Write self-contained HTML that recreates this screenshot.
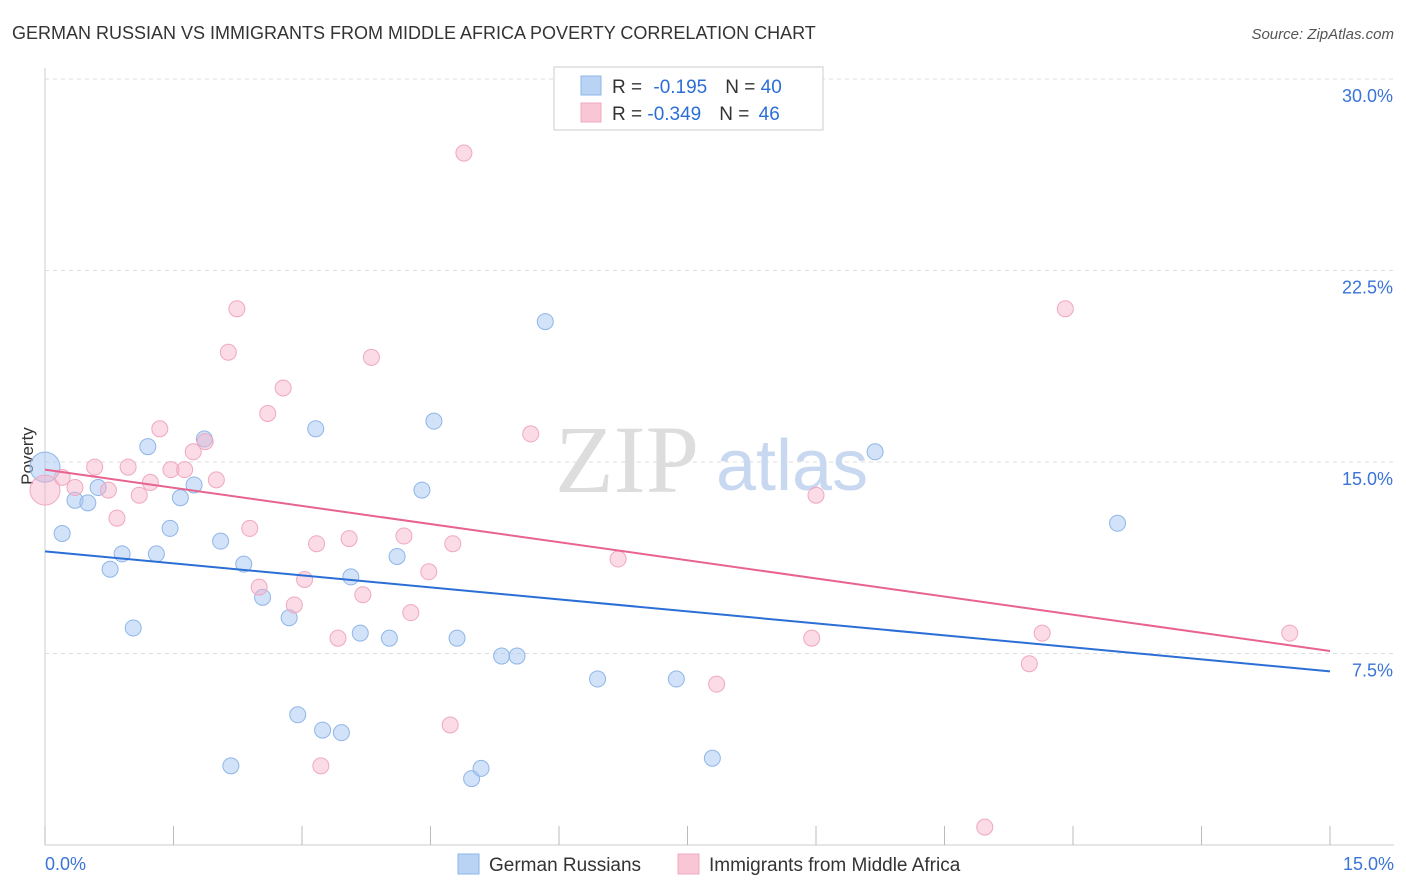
<!DOCTYPE html>
<html><head><meta charset="utf-8"><style>
body{margin:0;background:#fff;font-family:"Liberation Sans",sans-serif;}
svg{display:block}
</style></head><body>
<svg id="c" width="1406" height="892" xmlns="http://www.w3.org/2000/svg">
<text x="12" y="39" font-size="18" fill="#333">GERMAN RUSSIAN VS IMMIGRANTS FROM MIDDLE AFRICA POVERTY CORRELATION CHART</text>
<text x="1394" y="39" font-size="15" fill="#555" font-style="italic" text-anchor="end">Source: ZipAtlas.com</text>
<text x="33" y="456" font-size="17" fill="#333" transform="rotate(-90 33 456)" text-anchor="middle">Poverty</text>
<g id="grid"></g>
<g id="wm"><text x="555" y="492" font-size="96" fill="#ddd" font-family="Liberation Serif,serif">ZIP</text><text x="716" y="490" font-size="72" fill="#c8d8f0">atlas</text></g>
<g id="pts"></g>
<g id="lines"></g>
<g>
<rect x="554" y="67" width="269" height="63" fill="#fff" stroke="#ccc"/>
<rect x="581" y="76" width="20" height="19" fill="#b9d3f5" stroke="#8fb6e8"/>
<rect x="581" y="103" width="20" height="19" fill="#f9c6d6" stroke="#f0a8c0"/>
<text x="612" y="93" font-size="19" fill="#333">R = <tspan fill="#2b6fd6" dx="6">-0.195</tspan><tspan dx="18" fill="#333">N = </tspan><tspan fill="#2b6fd6">40</tspan></text>
<text x="612" y="120" font-size="19" fill="#333">R = <tspan fill="#2b6fd6">-0.349</tspan><tspan dx="18" fill="#333">N = </tspan><tspan fill="#2b6fd6" dx="4">46</tspan></text>
</g>
<g>
<rect x="458" y="854" width="21" height="20" fill="#b9d3f5" stroke="#8fb6e8"/>
<text x="489" y="871" font-size="19" fill="#333">German Russians</text>
<rect x="678" y="854" width="21" height="20" fill="#f9c6d6" stroke="#f0a8c0"/>
<text x="709" y="871" font-size="19" fill="#333">Immigrants from Middle Africa</text>
</g>
</svg>
<script>
const blueX=[0,0.20,0.35,0.50,0.62,0.76,0.90,1.03,1.20,1.30,1.46,1.58,1.74,1.86,2.05,2.17,2.32,2.54,2.85,2.95,3.16,3.24,3.46,3.57,3.68,4.02,4.11,4.40,4.54,4.81,4.98,5.09,5.33,5.51,5.84,6.45,7.37,7.79,9.69,12.52];
const blueY=[14.8,12.2,13.5,13.4,14.0,10.8,11.4,8.5,15.6,11.4,12.4,13.6,14.1,15.9,11.9,3.1,11.0,9.7,8.9,5.1,16.3,4.5,4.4,10.5,8.3,8.1,11.3,13.9,16.6,8.1,2.6,3.0,7.4,7.4,20.5,6.5,6.5,3.4,15.4,12.6];
const pinkX=[0,0.20,0.35,0.58,0.74,0.84,0.97,1.10,1.23,1.34,1.47,1.63,1.73,1.87,2.00,2.14,2.24,2.39,2.50,2.60,2.78,2.91,3.03,3.17,3.22,3.42,3.55,3.71,3.81,4.19,4.27,4.48,4.73,4.76,4.89,5.67,6.69,7.84,8.95,9.00,10.97,11.49,11.64,11.91,14.53];
const pinkY=[13.9,14.4,14.0,14.8,13.9,12.8,14.8,13.7,14.2,16.3,14.7,14.7,15.4,15.8,14.3,19.3,21.0,12.4,10.1,16.9,17.9,9.4,10.4,11.8,3.1,8.1,12.0,9.8,19.1,12.1,9.1,10.7,4.7,11.8,27.1,16.1,11.2,6.3,8.1,13.7,0.7,7.1,8.3,21.0,8.3];
const blueTrend=[11.5,6.8];
const pinkTrend=[14.7,7.6];
const yTicks=[7.5,15.0,22.5,30.0];
const xTickVals=[0,1.5,3,4.5,6,7.5,9,10.5,12,13.5,15];
const NS="http://www.w3.org/2000/svg";
const X=v=>45+v*1285/15, Y=v=>845-v*25.533;
function mk(t,a,p){const e=document.createElementNS(NS,t);for(const k in a)e.setAttribute(k,a[k]);p.appendChild(e);return e;}
const grid=document.getElementById('grid');
mk('line',{x1:45,y1:68,x2:45,y2:845,stroke:'#ccc'},grid);
mk('line',{x1:45,y1:845,x2:1394,y2:845,stroke:'#ccc'},grid);
yTicks.forEach(v=>{
 const l=mk('line',{x1:45,y1:Y(v),x2:1394,y2:Y(v),stroke:'#ddd','stroke-dasharray':'4,4'},grid);
 
 
 const t=mk('text',{x:1393,y:Y(v)+23,'font-size':18,fill:'#3a74d8','text-anchor':'end'},grid);
 t.textContent=v.toFixed(1)+'%';
 
 
});
xTickVals.forEach(v=>{
 const l=mk('line',{x1:X(v),y1:826,x2:X(v),y2:845,stroke:'#bbb'},grid);
 
 
});
[[0,'start',45],[15,'end',1394]].forEach(([v,a,x])=>{
 const t=mk('text',{x:x,y:870,'font-size':18,fill:'#3a74d8','text-anchor':a},grid);
 t.textContent=v.toFixed(1)+'%';
 
 
});
const pts=document.getElementById('pts');
function series(xs,ys,fill,stroke,name){
 xs.forEach((x,i)=>{
  const c=mk('circle',{cx:X(x),cy:Y(ys[i]),r:i===0?15:8,fill:fill,stroke:stroke,'stroke-width':1},pts);
  
  
 });
}
series(blueX,blueY,'rgba(165,198,242,0.5)','#8fb6e8','german-russians');
series(pinkX,pinkY,'rgba(246,175,200,0.45)','#f0a8c0','middle-africa');
const lines=document.getElementById('lines');
const bl=mk('line',{x1:X(0),y1:Y(blueTrend[0]),x2:X(15),y2:Y(blueTrend[1]),stroke:'#2b6fd6','stroke-width':2},lines);


const pl=mk('line',{x1:X(0),y1:Y(pinkTrend[0]),x2:X(15),y2:Y(pinkTrend[1]),stroke:'#e8638f','stroke-width':2},lines);


</script>
</body></html>
